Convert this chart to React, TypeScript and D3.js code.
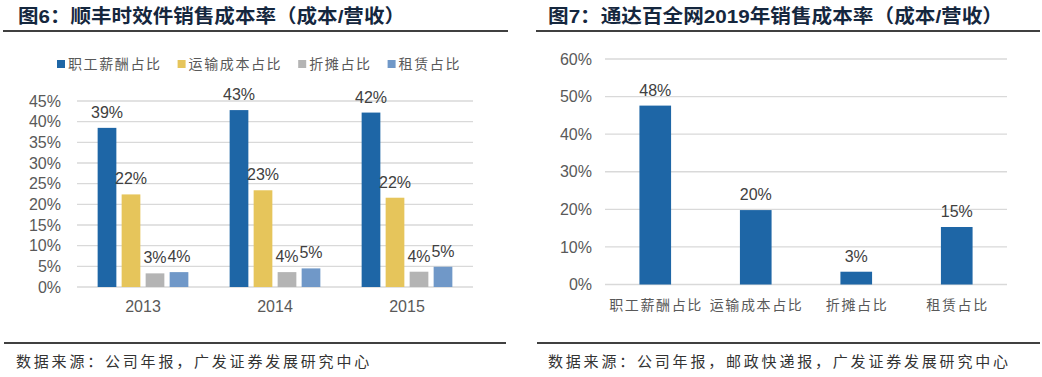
import React from "react";
import * as d3 from "d3";

const years = ["2013", "2014", "2015"];
const seriesNames = ["职工薪酬占比", "运输成本占比", "折摊占比", "租赁占比"];
const salaryRatio = [0.385, 0.428, 0.422];
const transportRatio = [0.224, 0.234, 0.216];
const depreciationRatio = [0.033, 0.036, 0.037];
const leaseRatio = [0.036, 0.045, 0.049];
const leftTicks = [0, 0.05, 0.1, 0.15, 0.2, 0.25, 0.3, 0.35, 0.4, 0.45];

const sto2019Categories = ["职工薪酬占比", "运输成本占比", "折摊占比", "租赁占比"];
const sto2019Values = [0.476, 0.198, 0.034, 0.153];
const rightTicks = [0, 0.1, 0.2, 0.3, 0.4, 0.5, 0.6];

const leftTitle = "图6：顺丰时效件销售成本率（成本/营收）";
const rightTitle = "图7：通达百全网2019年销售成本率（成本/营收）";
const leftSource = "数据来源：公司年报，广发证券发展研究中心";
const rightSource = "数据来源：公司年报，邮政快递报，广发证券发展研究中心";

const COLORS = ["#1E66A6", "#E6C55B", "#B4B4B4", "#7098C8"];
const LATIN = "'Liberation Sans', Arial, 'Noto Sans CJK SC', sans-serif";
const CJK = "'Noto Sans CJK SC', sans-serif";
const TITLE_COLOR = "#15273E";
const TEXT = "#595959";
const LABEL = "#404040";
const GRID = "#D9D9D9";

const pct = d3.format(".0%");

export default function App() {
  const seriesValues = [salaryRatio, transportRatio, depreciationRatio, leaseRatio];

  const yL = d3.scaleLinear().domain([0, 0.45]).range([287, 101]);
  const x0 = d3.scaleBand<string>().domain(years).range([77, 473]).paddingInner(0).paddingOuter(0);
  const x1 = d3
    .scaleBand<string>()
    .domain(seriesNames)
    .range([0, x0.bandwidth()])
    .paddingInner(0.22)
    .paddingOuter(0.86);

  const yR = d3.scaleLinear().domain([0, 0.6]).range([284.5, 59]);
  const xR = d3
    .scaleBand<string>()
    .domain(sto2019Categories)
    .range([605, 1007])
    .paddingInner(0.685)
    .paddingOuter(0.3425);

  const legendItems: { name: string; x: number; color: string }[] = [];
  let lx = 57;
  seriesNames.forEach((n, i) => {
    legendItems.push({ name: n, x: lx, color: COLORS[i] });
    lx += 11 + n.length * 15.6 + 16;
  });

  return (
    <svg
      width={1042}
      height={377}
      style={{ position: "absolute", left: 0, top: 0, background: "#fff" }}
    >
      <rect x={0} y={0} width={1042} height={377} fill="#fff" />
      <text
        x={18}
        y={23}
        fontFamily={LATIN}
        fontWeight="bold"
        fontSize={19}
        fill={TITLE_COLOR}
        textLength={387}
        lengthAdjust="spacingAndGlyphs"
      >
        {leftTitle}
      </text>
      <text
        x={548}
        y={23}
        fontFamily={LATIN}
        fontWeight="bold"
        fontSize={19}
        fill={TITLE_COLOR}
        textLength={455}
        lengthAdjust="spacingAndGlyphs"
      >
        {rightTitle}
      </text>
      <line x1={3} x2={508} y1={31} y2={31} stroke="#000" strokeWidth={1.3} />
      <line x1={536} x2={1040} y1={31} y2={31} stroke="#000" strokeWidth={1.3} />

      {legendItems.map((it) => (
        <g key={it.name}>
          <rect x={it.x} y={60} width={8} height={8} fill={it.color} />
          <text
            x={it.x + 11}
            y={64}
            dy="0.35em"
            fontFamily={CJK}
            fontSize={14}
            letterSpacing={1.6}
            fill={TEXT}
          >
            {it.name}
          </text>
        </g>
      ))}

      {leftTicks.map((t) => (
        <g key={"lt" + t}>
          <line x1={77} x2={473} y1={yL(t)} y2={yL(t)} stroke={GRID} strokeWidth={1.3} />
          <text
            x={61}
            y={yL(t)}
            dy="0.35em"
            textAnchor="end"
            fontFamily={LATIN}
            fontSize={16}
            fill={TEXT}
          >
            {pct(t)}
          </text>
        </g>
      ))}

      {years.map((yr, yi) => (
        <g key={yr} transform={`translate(${x0(yr)},0)`}>
          {seriesNames.map((s, si) => {
            const v = seriesValues[si][yi];
            const bx = x1(s) as number;
            return (
              <g key={s}>
                <rect
                  x={bx}
                  y={yL(v)}
                  width={x1.bandwidth()}
                  height={yL(0) - yL(v)}
                  fill={COLORS[si]}
                />
                <text
                  x={bx + x1.bandwidth() / 2}
                  y={yL(v) - 10}
                  textAnchor="middle"
                  fontFamily={LATIN}
                  fontSize={16}
                  fill={LABEL}
                >
                  {pct(v)}
                </text>
              </g>
            );
          })}
          <text
            x={x0.bandwidth() / 2}
            y={306.5}
            dy="0.35em"
            textAnchor="middle"
            fontFamily={LATIN}
            fontSize={16}
            fill={TEXT}
          >
            {yr}
          </text>
        </g>
      ))}

      {rightTicks.map((t) => (
        <g key={"rt" + t}>
          <line x1={605} x2={1007} y1={yR(t)} y2={yR(t)} stroke={GRID} strokeWidth={1.3} />
          <text
            x={592}
            y={yR(t)}
            dy="0.35em"
            textAnchor="end"
            fontFamily={LATIN}
            fontSize={16}
            fill={TEXT}
          >
            {pct(t)}
          </text>
        </g>
      ))}

      {sto2019Categories.map((c, i) => {
        const v = sto2019Values[i];
        const bx = xR(c) as number;
        const cx = bx + xR.bandwidth() / 2;
        return (
          <g key={"r" + c}>
            <rect
              x={bx}
              y={yR(v)}
              width={xR.bandwidth()}
              height={yR(0) - yR(v)}
              fill={COLORS[0]}
            />
            <text
              x={cx}
              y={yR(v) - 10}
              textAnchor="middle"
              fontFamily={LATIN}
              fontSize={16}
              fill={LABEL}
            >
              {pct(v)}
            </text>
            <text
              x={cx + 0.8}
              y={305}
              dy="0.35em"
              textAnchor="middle"
              fontFamily={CJK}
              fontSize={14}
              letterSpacing={1.6}
              fill={TEXT}
            >
              {c}
            </text>
          </g>
        );
      })}

      <line x1={4} x2={506} y1={343} y2={343} stroke="#000" strokeWidth={1.3} />
      <line x1={537} x2={1040} y1={343} y2={343} stroke="#000" strokeWidth={1.3} />
      <text
        x={16}
        y={361.5}
        dy="0.35em"
        fontFamily={CJK}
        fontSize={15}
        letterSpacing={2.8}
        fill="#333"
      >
        {leftSource}
      </text>
      <text
        x={548}
        y={361.5}
        dy="0.35em"
        fontFamily={CJK}
        fontSize={15}
        letterSpacing={2.8}
        fill="#333"
      >
        {rightSource}
      </text>
    </svg>
  );
}
